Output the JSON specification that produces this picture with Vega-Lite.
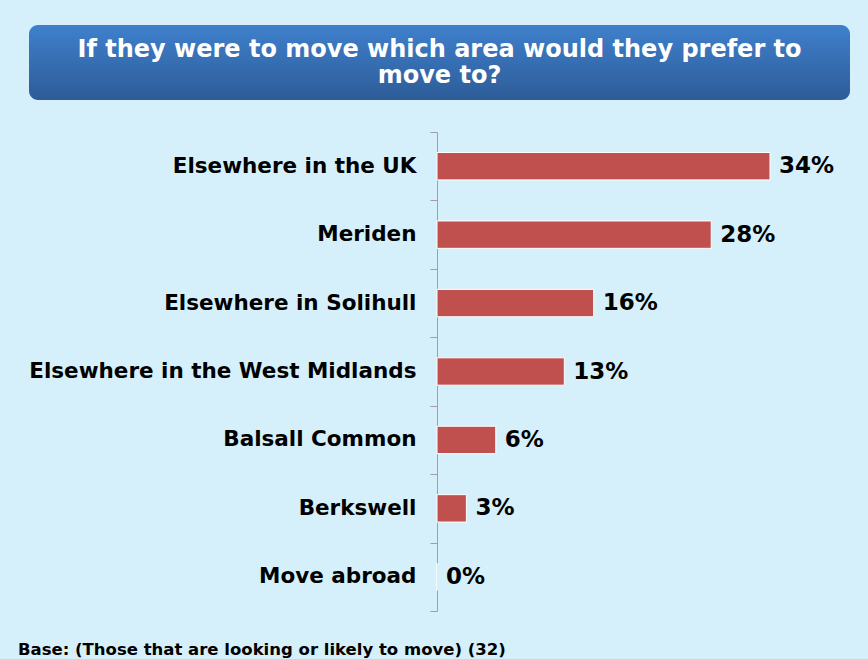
{
  "$schema": "https://vega.github.io/schema/vega-lite/v6.json",
  "background": "#d5f0fa",
  "padding": {"left": 18, "top": 25, "right": 18, "bottom": 4},
  "spacing": 21,
  "config": {"font": "DejaVu Sans", "view": {"stroke": null}},
  "vconcat": [
    {
      "width": 821,
      "height": 75,
      "view": {
        "fill": {"gradient": "linear", "x1": 0, "y1": 0, "x2": 0, "y2": 1, "stops": [{"offset": 0, "color": "#3f80cc"}, {"offset": 1, "color": "#2d5c98"}]},
        "cornerRadius": 9,
        "stroke": null
      },
      "data": {"values": [{"title": "If they were to move which area would they prefer to"}]},
      "mark": {
        "type": "text",
        "text": ["If they were to move which area would they prefer to", "move to?"],
        "align": "center",
        "baseline": "middle",
        "fontSize": 24,
        "fontWeight": "bold",
        "color": "white",
        "lineHeight": 26
      },
      "encoding": {
        "x": {"datum": 0.5, "type": "quantitative", "scale": {"domain": [0, 1]}, "axis": null},
        "y": {"datum": 0.667, "type": "quantitative", "scale": {"domain": [0, 1]}, "axis": null}
      }
    },
    {
      "width": 821,
      "height": 479,
      "title": {
        "text": "Base: (Those that are looking or likely to move)  (32)",
        "orient": "bottom",
        "anchor": "start",
        "frame": "group",
        "fontSize": 16.5,
        "fontWeight": "bold",
        "color": "black",
        "offset": 30,
        "dx": -11
      },
      "data": {
        "values": [
          {"area": "Elsewhere in the UK", "pct": 0.34},
          {"area": "Meriden", "pct": 0.28},
          {"area": "Elsewhere in Solihull", "pct": 0.16},
          {"area": "Elsewhere in the West Midlands", "pct": 0.13},
          {"area": "Balsall Common", "pct": 0.06},
          {"area": "Berkswell", "pct": 0.03},
          {"area": "Move abroad", "pct": 0.0}
        ]
      },
      "encoding": {
        "y": {
          "field": "area",
          "type": "nominal",
          "sort": null,
          "scale": {"paddingInner": 0, "paddingOuter": 0},
          "axis": {
            "title": null,
            "offset": -408,
            "tickBand": "extent",
            "tickSize": 7,
            "tickColor": "#a0a0a0",
            "domainColor": "#a0a0a0",
            "labelFont": "DejaVu Sans",
            "labelFontSize": 21.5,
            "labelFontWeight": "bold",
            "labelColor": "black",
            "labelPadding": 14,
            "labelLimit": 0,
            "grid": false
          }
        },
        "x": {
          "field": "pct",
          "type": "quantitative",
          "scale": {"domain": [-0.4166, 0.4217], "nice": false},
          "axis": null
        }
      },
      "layer": [
        {"mark": {"type": "bar", "fill": "#c0504d", "stroke": "white", "strokeWidth": 1, "height": {"band": 0.4}}},
        {
          "mark": {"type": "text", "align": "left", "baseline": "middle", "dx": 9, "fontSize": 23, "fontWeight": "bold", "color": "black"},
          "encoding": {"text": {"field": "pct", "type": "quantitative", "format": ".0%"}}
        }
      ]
    }
  ]
}
